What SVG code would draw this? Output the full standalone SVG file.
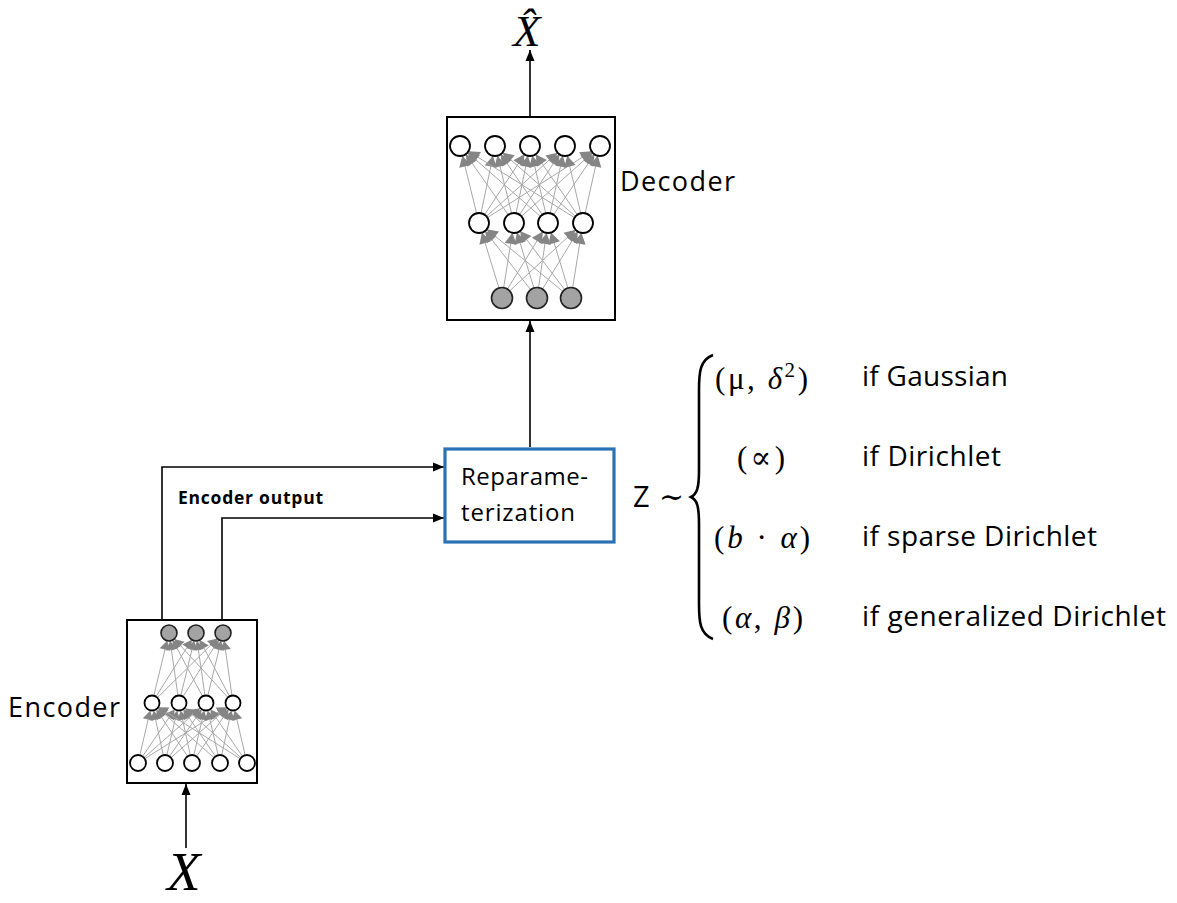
<svg xmlns="http://www.w3.org/2000/svg" width="1177" height="903" viewBox="0 0 1177 903">
  <style>
    .box { fill: #fff; stroke: #000; stroke-width: 2; }
    .rep { fill: #fff; stroke: #2a72b5; stroke-width: 3.2; }
    .n { fill: #fff; stroke: #000; stroke-width: 1.8; }
    .g { fill: #a3a3a3; stroke: #222; stroke-width: 1.6; }
    .w { stroke: #a8a8a8; stroke-width: 1; fill: none; }
    .dw { marker-end: url(#ah10); }
    .ew { marker-end: url(#ah8); }
    .flow { fill: none; stroke: #000; stroke-width: 1.6; marker-end: url(#arr); }
    .lbl { font-family: "Open Sans", "Noto Sans", sans-serif; fill: #000; }
    .math { font-family: "Liberation Serif", "DejaVu Serif", serif; fill: #000; }
    .it { font-style: italic; }
  </style>
  <defs>
    <!-- arrowheads on the layer links, tip sits on the target circle rim -->
    <marker id="ah10" markerUnits="userSpaceOnUse" markerWidth="1" markerHeight="1" refX="0" refY="0" orient="auto" overflow="visible">
      <path d="M-10,0 L-21,-6 L-21,6 z" fill="#858585"/>
    </marker>
    <marker id="ah8" markerUnits="userSpaceOnUse" markerWidth="1" markerHeight="1" refX="0" refY="0" orient="auto" overflow="visible">
      <path d="M-8,0 L-17,-5.5 L-17,5.5 z" fill="#858585"/>
    </marker>
    <marker id="arr" markerUnits="userSpaceOnUse" markerWidth="1" markerHeight="1" refX="0" refY="0" orient="auto" overflow="visible">
      <path d="M0,0 L-11,-4.5 L-11,4.5 z" fill="#000"/>
    </marker>
  </defs>

  <rect width="1177" height="903" fill="#fff"/>

  <!-- connectors between blocks -->
  <g id="connectors">
    <line class="flow" x1="186" y1="848" x2="186" y2="784"/>
    <polyline class="flow" points="162,620 162,467 444,467"/>
    <polyline class="flow" points="222,620 222,518 444,518"/>
    <line class="flow" x1="530" y1="447" x2="530" y2="321"/>
    <line class="flow" x1="530" y1="117" x2="530" y2="50"/>
  </g>

  <!-- decoder network -->
  <g id="decoder">
    <rect class="box" x="447" y="117" width="168" height="203"/>
    <g class="w dw">
      <line x1="502" y1="298" x2="479" y2="223"/><line x1="502" y1="298" x2="514" y2="223"/>
      <line x1="502" y1="298" x2="548" y2="223"/><line x1="502" y1="298" x2="583" y2="223"/>
      <line x1="537" y1="298" x2="479" y2="223"/><line x1="537" y1="298" x2="514" y2="223"/>
      <line x1="537" y1="298" x2="548" y2="223"/><line x1="537" y1="298" x2="583" y2="223"/>
      <line x1="571" y1="298" x2="479" y2="223"/><line x1="571" y1="298" x2="514" y2="223"/>
      <line x1="571" y1="298" x2="548" y2="223"/><line x1="571" y1="298" x2="583" y2="223"/>
      <line x1="479" y1="223" x2="460" y2="146"/><line x1="479" y1="223" x2="495" y2="146"/>
      <line x1="479" y1="223" x2="530" y2="146"/><line x1="479" y1="223" x2="565" y2="146"/>
      <line x1="479" y1="223" x2="600" y2="146"/>
      <line x1="514" y1="223" x2="460" y2="146"/><line x1="514" y1="223" x2="495" y2="146"/>
      <line x1="514" y1="223" x2="530" y2="146"/><line x1="514" y1="223" x2="565" y2="146"/>
      <line x1="514" y1="223" x2="600" y2="146"/>
      <line x1="548" y1="223" x2="460" y2="146"/><line x1="548" y1="223" x2="495" y2="146"/>
      <line x1="548" y1="223" x2="530" y2="146"/><line x1="548" y1="223" x2="565" y2="146"/>
      <line x1="548" y1="223" x2="600" y2="146"/>
      <line x1="583" y1="223" x2="460" y2="146"/><line x1="583" y1="223" x2="495" y2="146"/>
      <line x1="583" y1="223" x2="530" y2="146"/><line x1="583" y1="223" x2="565" y2="146"/>
      <line x1="583" y1="223" x2="600" y2="146"/>
    </g>
    <circle class="n" cx="460" cy="146" r="10"/><circle class="n" cx="495" cy="146" r="10"/>
    <circle class="n" cx="530" cy="146" r="10"/><circle class="n" cx="565" cy="146" r="10"/>
    <circle class="n" cx="600" cy="146" r="10"/>
    <circle class="n" cx="479" cy="223" r="10"/><circle class="n" cx="514" cy="223" r="10"/>
    <circle class="n" cx="548" cy="223" r="10"/><circle class="n" cx="583" cy="223" r="10"/>
    <circle class="g" cx="502" cy="298" r="10.5"/><circle class="g" cx="537" cy="298" r="10.5"/>
    <circle class="g" cx="571" cy="298" r="10.5"/>
    <text class="lbl" x="620" y="191" font-size="27" textLength="115">Decoder</text>
  </g>

  <!-- encoder network -->
  <g id="encoder">
    <rect class="box" x="127" y="620" width="130" height="163"/>
    <g class="w ew">
      <line x1="138" y1="763" x2="152" y2="703"/><line x1="138" y1="763" x2="179" y2="703"/>
      <line x1="138" y1="763" x2="206" y2="703"/><line x1="138" y1="763" x2="233" y2="703"/>
      <line x1="165" y1="763" x2="152" y2="703"/><line x1="165" y1="763" x2="179" y2="703"/>
      <line x1="165" y1="763" x2="206" y2="703"/><line x1="165" y1="763" x2="233" y2="703"/>
      <line x1="192" y1="763" x2="152" y2="703"/><line x1="192" y1="763" x2="179" y2="703"/>
      <line x1="192" y1="763" x2="206" y2="703"/><line x1="192" y1="763" x2="233" y2="703"/>
      <line x1="220" y1="763" x2="152" y2="703"/><line x1="220" y1="763" x2="179" y2="703"/>
      <line x1="220" y1="763" x2="206" y2="703"/><line x1="220" y1="763" x2="233" y2="703"/>
      <line x1="247" y1="763" x2="152" y2="703"/><line x1="247" y1="763" x2="179" y2="703"/>
      <line x1="247" y1="763" x2="206" y2="703"/><line x1="247" y1="763" x2="233" y2="703"/>
      <line x1="152" y1="703" x2="169" y2="633"/><line x1="152" y1="703" x2="196" y2="633"/>
      <line x1="152" y1="703" x2="223" y2="633"/>
      <line x1="179" y1="703" x2="169" y2="633"/><line x1="179" y1="703" x2="196" y2="633"/>
      <line x1="179" y1="703" x2="223" y2="633"/>
      <line x1="206" y1="703" x2="169" y2="633"/><line x1="206" y1="703" x2="196" y2="633"/>
      <line x1="206" y1="703" x2="223" y2="633"/>
      <line x1="233" y1="703" x2="169" y2="633"/><line x1="233" y1="703" x2="196" y2="633"/>
      <line x1="233" y1="703" x2="223" y2="633"/>
    </g>
    <circle class="g" cx="169" cy="633" r="8"/><circle class="g" cx="196" cy="633" r="8"/>
    <circle class="g" cx="223" cy="633" r="8"/>
    <circle class="n" cx="152" cy="703" r="7.5"/><circle class="n" cx="179" cy="703" r="7.5"/>
    <circle class="n" cx="206" cy="703" r="7.5"/><circle class="n" cx="233" cy="703" r="7.5"/>
    <circle class="n" cx="138" cy="763" r="8"/><circle class="n" cx="165" cy="763" r="8"/>
    <circle class="n" cx="192" cy="763" r="8"/><circle class="n" cx="220" cy="763" r="8"/>
    <circle class="n" cx="247" cy="763" r="8"/>
    <text class="lbl" x="8" y="717" font-size="27" textLength="112">Encoder</text>
  </g>

  <g id="encoder-output-label">
    <text class="lbl" x="178" y="504" font-size="17.5" font-weight="bold" textLength="145">Encoder output</text>
  </g>

  <!-- sampling block -->
  <g id="reparameterization">
    <rect class="rep" x="445" y="449" width="169" height="93"/>
    <text class="lbl" x="461" y="485" font-size="24" textLength="127">Reparame-</text>
    <text class="lbl" x="461" y="521" font-size="24" textLength="114">terization</text>
  </g>

  <!-- input and reconstruction symbols -->
  <g id="input-x">
    <text class="math it" x="167" y="890" font-size="55">X</text>
  </g>
  <g id="output-xhat">
    <text class="math it" x="513" y="46" font-size="45">X&#x302;</text>
  </g>

  <!-- latent distribution cases -->
  <g id="latent-cases">
    <text class="lbl" x="633" y="507" font-size="29">Z</text>
    <text class="math" x="659" y="507" font-size="30">∼</text>
    <path d="M713,355 C700,360 699,372 699,390 L699,470 C699,488 697,494 691,497 C697,500 699,506 699,524 L699,604 C699,622 700,634 713,639" fill="none" stroke="#000" stroke-width="2.6"/>
    <text class="math" x="715" y="389" font-size="31" textLength="93">(μ, <tspan class="it">δ</tspan><tspan font-size="21" dy="-12">2</tspan><tspan dy="12">)</tspan></text>
    <text class="math" x="737" y="468" font-size="31" textLength="48">(∝)</text>
    <text class="math" x="714" y="548" font-size="31" textLength="96">(<tspan class="it">b</tspan> · <tspan class="it">α</tspan>)</text>
    <text class="math" x="722" y="628" font-size="31" textLength="81">(<tspan class="it">α</tspan>, <tspan class="it">β</tspan>)</text>
    <text class="lbl" x="862" y="386" font-size="28" textLength="146">if Gaussian</text>
    <text class="lbl" x="862" y="466" font-size="28" textLength="139">if Dirichlet</text>
    <text class="lbl" x="862" y="546" font-size="28" textLength="235">if sparse Dirichlet</text>
    <text class="lbl" x="862" y="626" font-size="28" textLength="304">if generalized Dirichlet</text>
  </g>
</svg>
